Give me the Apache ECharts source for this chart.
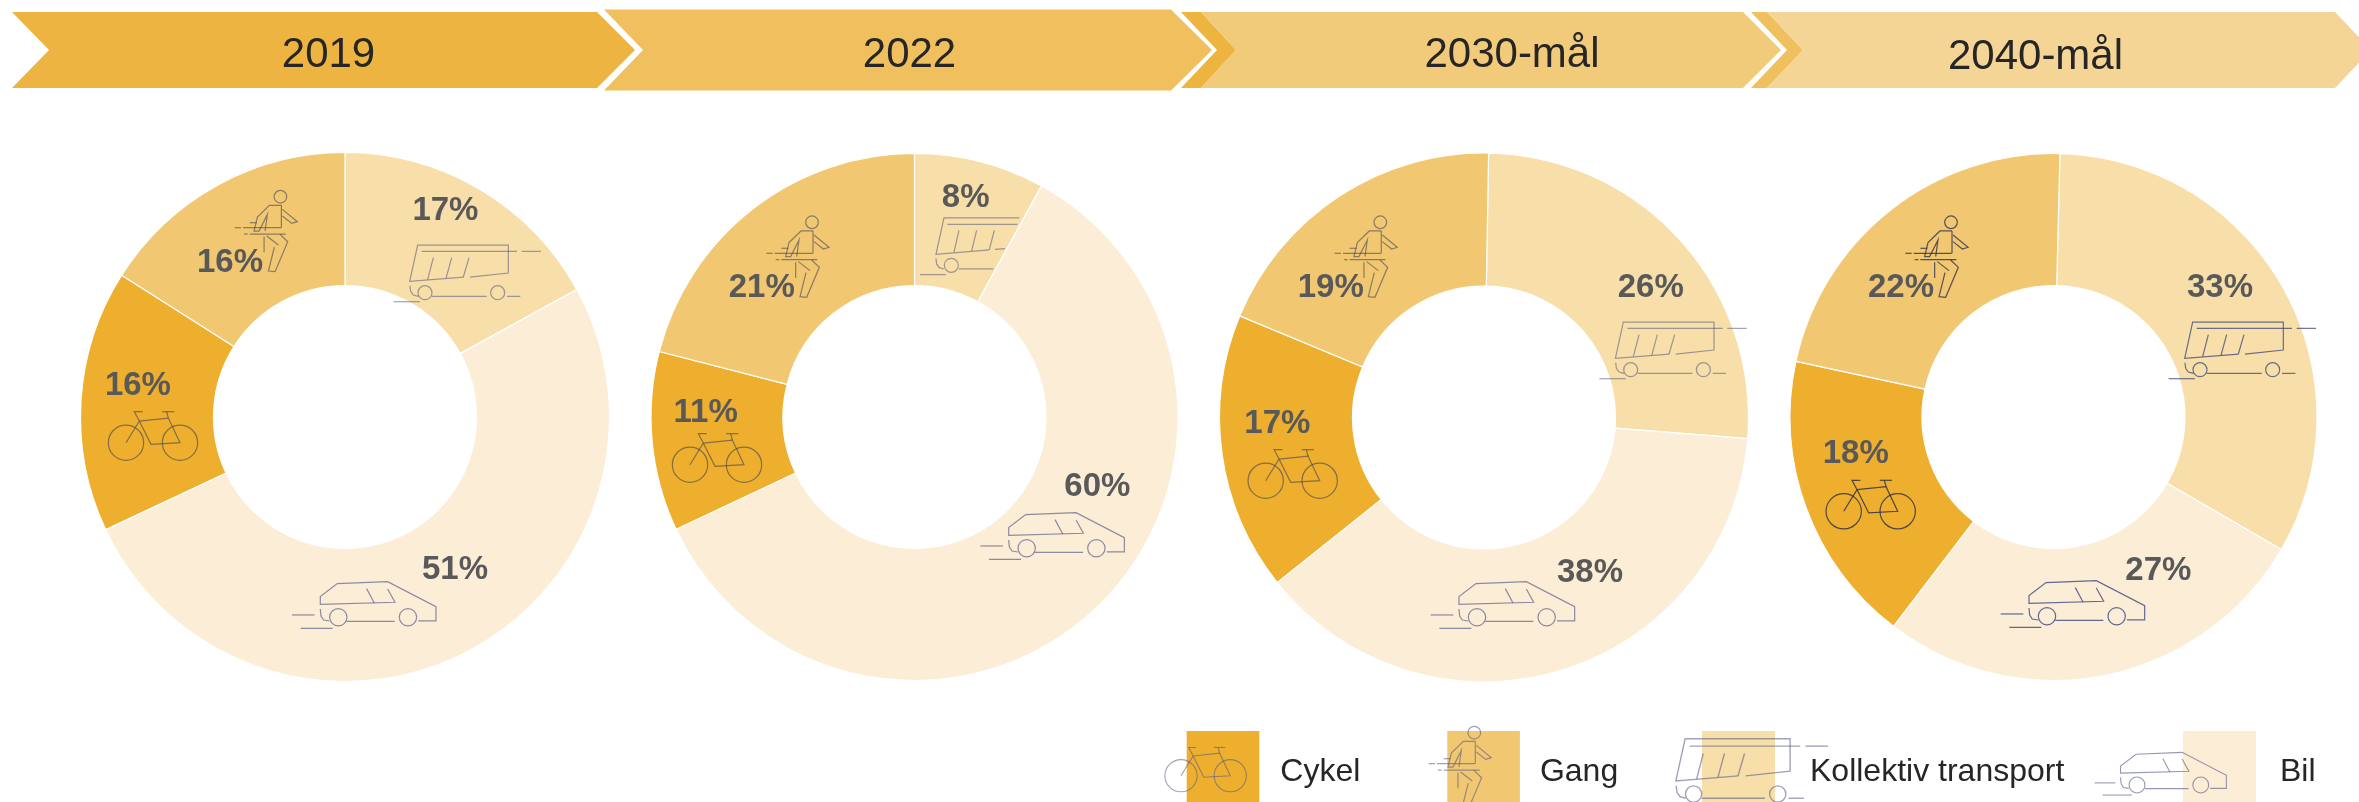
<!DOCTYPE html>
<html><head><meta charset="utf-8">
<style>html,body{margin:0;padding:0;background:#fff}#c{width:2359px;height:802px}</style>
<script src="https://cdn.jsdelivr.net/npm/echarts@6/dist/echarts.min.js"></script>
</head><body><div id="c"></div>
<script>
// ---- data ----
const periods = ['2019', '2022', '2030-mål', '2040-mål'];
const modes = ['Kollektiv transport', 'Bil', 'Cykel', 'Gang'];
const share2019 = [17, 51, 16, 16];
const share2022 = [8, 60, 11, 21];
const share2030 = [26, 38, 17, 19];
const share2040 = [33, 27, 18, 22];
const legendOrder = ['Cykel', 'Gang', 'Kollektiv transport', 'Bil'];

// ---- styles / layout ----
const modeColors = ['#F8DFAA', '#FCEED6', '#EEAF2E', '#F2C771'];
const pieLayout = [
  {cx: 345, cy: 417, r: 264.5, start: 90},
  {cx: 914.5, cy: 417, r: 263.5, start: 90},
  {cx: 1484, cy: 417.5, r: 264.5, start: 89},
  {cx: 2053.5, cy: 417, r: 263.5, start: 88.6}
];
const labelSpots = [
  [[445.4, 211], [455, 570], [137.9, 386], [230, 262.7]],
  [[965.7, 197.7], [1097.3, 486.7], [705.7, 413.3], [761.7, 287.7]],
  [[1650.7, 287.7], [1590, 573.3], [1277.3, 424], [1330.7, 287.7]],
  [[2220, 287.7], [2158.3, 570.7], [1855.7, 454.3], [1901, 287.7]]
];

// icon outlines, in 3x-zoom units, relative to an anchor
function icon(origin, lines, circles) {
  return {
    lines: lines.map(l => l.map(p => [p[0] - origin[0], p[1] - origin[1]])),
    circles: circles.map(c => [c[0] - origin[0], c[1] - origin[1], c[2]])
  };
}
const bike = icon([0, 0], [
  [[0, 0], [40, -65], [25, -93], [50, -93]],
  [[40, -65], [127, -74], [162, 0], [75, 5], [40, -65]],
  [[108, -93], [145, -93]], [[127, -74], [122, -93]]
], [[0, 0, 53], [162, 0, 53]]);
const walker = icon([516, 217], [
  [[519, 243], [483, 243], [447, 278], [437, 320], [452, 320], [477, 270], [470, 320]],
  [[519, 243], [519, 310]],
  [[522, 255], [567, 292], [550, 297], [522, 275]],
  [[379, 310], [398, 310]], [[404, 310], [518, 310]],
  [[407, 329], [418, 329]], [[424, 329], [532, 329]],
  [[424, 295], [445, 295]],
  [[467, 337], [467, 384]],
  [[475, 335], [510, 362]],
  [[498, 368], [480, 440], [500, 442], [538, 352], [515, 330]]
], [[516, 217, 19]]);
const bus = icon([1232, 509], [
  [[1367, 462], [1482, 450], [1482, 366], [1210, 366], [1186, 475], [1348, 462]],
  [[1222, 385], [1508, 385]], [[1522, 385], [1580, 385]],
  [[1257, 404], [1240, 470]], [[1312, 404], [1295, 466]], [[1364, 404], [1347, 462]],
  [[1187, 488], [1189, 505], [1197, 516], [1212, 520]],
  [[1253, 520], [1417, 520]], [[1478, 520], [1518, 520]],
  [[1138, 536], [1217, 536]]
], [[1232, 509, 21], [1450, 509, 21]]);
const busShort = icon([934, 346], [
  [[1138, 204], [912, 204], [888, 313], [1048, 300]], [[1065, 298], [1095, 296]],
  [[922, 223], [1132, 223]],
  [[957, 241], [942, 307]], [[1010, 241], [995, 303]], [[1063, 241], [1048, 299]],
  [[888, 325], [890, 342], [898, 353], [912, 357]],
  [[956, 357], [1060, 357]],
  [[840, 374], [918, 374]]
], [[934, 346, 21]]);
const car = icon([175, 232], [
  [[415, 243], [468, 243], [468, 200], [323, 125], [172, 131], [121, 170], [121, 193], [345, 187], [323, 147]],
  [[260, 146], [283, 189]],
  [[121, 207], [123, 228], [131, 240], [148, 243]],
  [[200, 244], [344, 244]],
  [[36, 225], [104, 225]], [[62, 265], [158, 265]]
], [[175, 232, 26], [384, 232, 26]]);

const iconPlaces = [
  [bike, 126, 442.7, 1/3, 'rgba(70,70,80,.62)'], [walker, 280.4, 196.7, 1/3, 'rgba(70,70,90,.6)'], [bus, 425, 292.7, 1/3, 'rgba(80,85,120,.55)'], [car, 338.3, 617.3, 1/3, 'rgba(80,85,130,.65)'],
  [bike, 690, 464.7, 1/3, 'rgba(70,70,80,.62)'], [walker, 812, 222.3, 1/3, 'rgba(70,70,90,.6)'], [busShort, 951.3, 265.3, 1/3, 'rgba(80,85,120,.55)'], [car, 1026.7, 548.3, 1/3, 'rgba(80,85,130,.65)'],
  [bike, 1265.7, 480.7, 1/3, 'rgba(70,70,80,.62)'], [walker, 1380.3, 222.3, 1/3, 'rgba(70,70,90,.6)'], [bus, 1630.7, 369.7, 1/3, 'rgba(80,85,120,.55)'], [car, 1477, 617.3, 1/3, 'rgba(80,85,130,.65)'],
  [bike, 1843.7, 511.3, 1/3, 'rgba(50,50,70,.85)'], [walker, 1951, 222.3, 1/3, 'rgba(50,50,80,.8)'], [bus, 2200, 369.7, 1/3, 'rgba(60,70,120,.75)'], [car, 2047, 616.3, 1/3, 'rgba(60,70,130,.8)'],
  [bike, 1181, 775.7, 0.304, 'rgba(80,85,130,.55)'], [walker, 1474.3, 732.7, 1/3, 'rgba(80,85,130,.55)'], [bus, 1693.6, 794, 0.386, 'rgba(80,85,130,.55)'], [car, 2137, 785, 0.305, 'rgba(80,85,130,.6)']
];

// header chevrons: [fill, polygon, optional under-chevron]
const chevrons = [
  {fill: '#EDB441', pts: [[12,12],[597,12],[635,50],[597,88],[12,88],[49,50]]},
  {fill: '#F0C05F', pts: [[604,9.5],[1171,9.5],[1212,50],[1171,90.5],[604,90.5],[643,50]]},
  {fill: '#F2CB7A', under: '#EEB440', pts: [[1201,12],[1743,12],[1781,50],[1743,88],[1201,88],[1236,50]], underPts: [[1181,12],[1201,12],[1236,50],[1201,88],[1181,88],[1217,50]]},
  {fill: '#F5D595', under: '#F0C05F', pts: [[1767,12],[2335,12],[2371,50],[2335,88],[1767,88],[1803,50]], underPts: [[1751,12],[1767,12],[1803,50],[1767,88],[1751,88],[1787,50]]}
];
const headerSpots = [[328.5, 55], [909.5, 55], [1512, 55], [2035.5, 57]];
const legendSpots = [
  {left: 1186.7, width: 72.6, gap: 16},
  {left: 1447.3, width: 72.6, gap: 15},
  {left: 1702, width: 73, gap: 30},
  {left: 2183, width: 73, gap: 19}
];

// ---- build ----
const allShares = [share2019, share2022, share2030, share2040];
const series = allShares.map((vals, s) => ({
  type: 'pie', name: periods[s],
  center: [pieLayout[s].cx, pieLayout[s].cy],
  radius: [131.5, pieLayout[s].r],
  startAngle: pieLayout[s].start,
  clockwise: true, silent: true, animation: false,
  itemStyle: {borderColor: '#fff', borderWidth: 1.2},
  label: {show: true, position: 'inside', formatter: '{c}%', color: '#595959',
    fontFamily: 'Liberation Sans', fontWeight: 'bold', fontSize: 33},
  labelLine: {show: false},
  labelLayout: p => ({
    x: labelSpots[s][p.dataIndex][0], y: labelSpots[s][p.dataIndex][1],
    align: 'center', verticalAlign: 'middle'
  }),
  data: modes.map((m, i) => ({name: m, value: vals[i], itemStyle: {color: modeColors[i]}}))
}));

const graphics = [];
chevrons.forEach(c => {
  if (c.under) graphics.push({type: 'polygon', z: 1, silent: true, shape: {points: c.underPts}, style: {fill: c.under}});
  graphics.push({type: 'polygon', z: 1, silent: true, shape: {points: c.pts}, style: {fill: c.fill}});
});
periods.forEach((t, i) => graphics.push({type: 'text', z: 2, silent: true, x: headerSpots[i][0], y: headerSpots[i][1],
  style: {text: t, fill: '#262626', font: '42px "Liberation Sans"', textAlign: 'center', textVerticalAlign: 'middle'}}));
iconPlaces.forEach(([ic, x, y, s, col]) => {
  const kids = [];
  ic.lines.forEach(l => kids.push({type: 'polyline', z: 20, silent: true, shape: {points: l}, style: {stroke: col, lineWidth: 3.6, fill: null}}));
  ic.circles.forEach(c => kids.push({type: 'circle', z: 20, silent: true, shape: {cx: c[0], cy: c[1], r: c[2]}, style: {stroke: col, lineWidth: 3.6, fill: null}}));
  graphics.push({type: 'group', x, y, scaleX: s, scaleY: s, silent: true, children: kids});
});

// the swatches run off the bottom of the picture, as in the reference
const legends = legendOrder.map((name, i) => ({
  data: [name], left: legendSpots[i].left, top: 731, padding: 0,
  itemWidth: legendSpots[i].width, itemHeight: 83, selectedMode: false, icon: 'rect',
  itemStyle: {borderWidth: 0},
  textStyle: {fontFamily: 'Liberation Sans', fontSize: 32, color: '#262626', padding: [0, 0, 0, legendSpots[i].gap]}
}));

const chart = echarts.init(document.getElementById('c'), null, {renderer: 'canvas'});
chart.setOption({
  animation: false, backgroundColor: '#fff',
  tooltip: {show: false},
  legend: legends, series, graphic: {elements: graphics}
});
</script></body></html>
